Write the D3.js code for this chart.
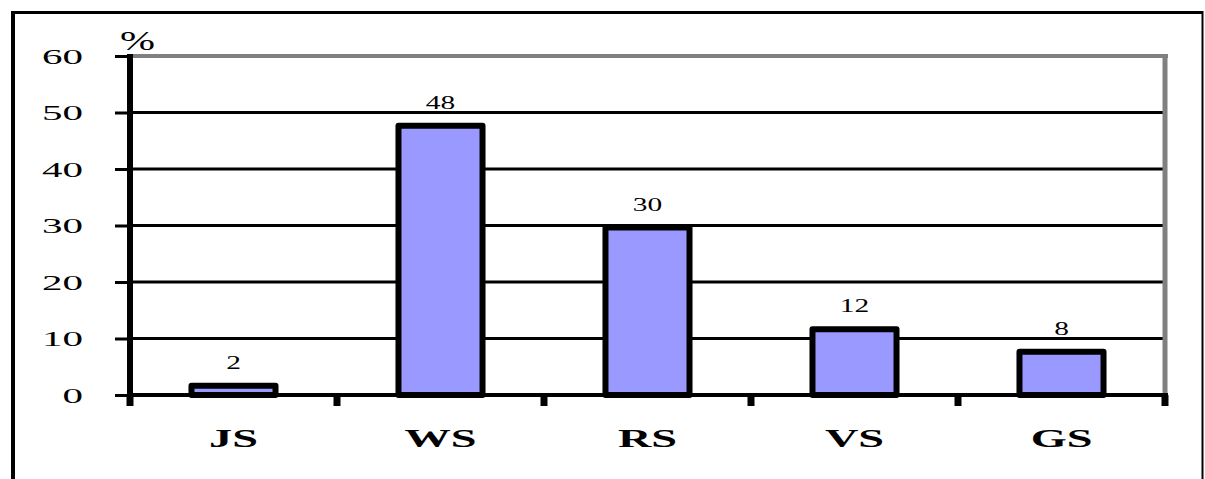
<!DOCTYPE html>
<html>
<head>
<meta charset="utf-8">
<script src="https://cdn.jsdelivr.net/npm/d3@7"></script>
<style>
  html, body { margin: 0; padding: 0; background: #fff; }
  svg { display: block; }
  svg text { font-family: "Liberation Serif", serif !important; fill: #000; }
</style>
</head>
<body>
<svg id="chart" width="1205" height="479"></svg>
<script>
// Share of each class, in percent
const categories = ["JS", "WS", "RS", "VS", "GS"];
const values = [2, 48, 30, 12, 8];
const yTicks = [0, 10, 20, 30, 40, 50, 60];
const yUnit = "%";

const svg = d3.select("#chart");
const W = 1205, H = 479;
const plot = { left: 130, right: 1165, top: 56, bottom: 395 };
const serif = "'Liberation Serif', serif";

const x = d3.scaleBand()
  .domain(categories)
  .range([plot.left, plot.right])
  .paddingInner(0.565)
  .paddingOuter(0.2825);

const y = d3.scaleLinear()
  .domain([0, 60])
  .range([plot.bottom, plot.top]);

// Outer frame
svg.append("line").attr("x1", 13).attr("x2", 13).attr("y1", 11).attr("y2", H + 5)
  .attr("stroke", "#000").attr("stroke-width", 4);
svg.append("line").attr("x1", 11).attr("x2", 1203).attr("y1", 12.5).attr("y2", 12.5)
  .attr("stroke", "#000").attr("stroke-width", 3);
svg.append("line").attr("x1", 1202.5).attr("x2", 1202.5).attr("y1", 11).attr("y2", H + 5)
  .attr("stroke", "#000").attr("stroke-width", 2);

// Horizontal gridlines
svg.append("g").selectAll("line")
  .data(yTicks.filter(d => d > 0 && d < 60))
  .join("line")
  .attr("x1", plot.left).attr("x2", plot.right)
  .attr("y1", d => y(d)).attr("y2", d => y(d))
  .attr("stroke", "#000").attr("stroke-width", 3);

// Plot-area border (top and right, gray)
svg.append("line").attr("x1", plot.left).attr("x2", plot.right + 3)
  .attr("y1", y(60)).attr("y2", y(60))
  .attr("stroke", "#808080").attr("stroke-width", 4);
svg.append("line").attr("x1", plot.right).attr("x2", plot.right)
  .attr("y1", y(60) - 2).attr("y2", plot.bottom)
  .attr("stroke", "#808080").attr("stroke-width", 5);

// Bars
const rows = categories.map((c, i) => ({ c, v: values[i] }));
svg.append("g").selectAll("rect")
  .data(rows)
  .join("rect")
  .attr("x", d => x(d.c) + 3)
  .attr("width", x.bandwidth() - 6)
  .attr("y", d => y(d.v) + 2)
  .attr("height", d => y(0) - y(d.v) - 2)
  .attr("fill", "#9999FF")
  .attr("stroke", "#000")
  .attr("stroke-width", 6)
  .attr("stroke-linejoin", "round");

// Value labels
svg.append("g").selectAll("text")
  .data(rows)
  .join("text")
  .style("font-family", serif)
  .attr("text-anchor", "middle")
  .attr("font-size", 19)
  .attr("transform", d => `translate(${x(d.c) + x.bandwidth() / 2},${y(d.v) - 15}) scale(1.55,1)`)
  .text(d => d.v);

// Baseline
svg.append("line").attr("x1", plot.left).attr("x2", plot.right + 3)
  .attr("y1", y(0)).attr("y2", y(0))
  .attr("stroke", "#000").attr("stroke-width", 4);

// Category boundary ticks under the baseline
const bounds = categories.map(c => x(c) - x.step() * x.paddingOuter()).concat([plot.right]);
svg.append("g").selectAll("line")
  .data(bounds)
  .join("line")
  .attr("x1", d => d).attr("x2", d => d)
  .attr("y1", y(0)).attr("y2", y(0) + 11)
  .attr("stroke", "#000").attr("stroke-width", 7);

// Category labels
svg.append("g").selectAll("text")
  .data(categories)
  .join("text")
  .style("font-family", serif)
  .attr("text-anchor", "middle")
  .attr("font-size", 25)
  .attr("font-weight", "bold")
  .attr("transform", d => `translate(${x(d) + x.bandwidth() / 2},447) scale(1.85,1)`)
  .text(d => d);

// Y axis
const yAxis = d3.axisLeft(y).tickValues(yTicks).tickSize(15).tickFormat(d => d);
const gy = svg.append("g").attr("transform", `translate(${plot.left},0)`).call(yAxis);
gy.attr("font-family", null);
gy.select(".domain").remove();
gy.selectAll(".tick line").attr("stroke", "#000").attr("stroke-width", 3);
gy.selectAll(".tick text")
  .style("font-family", serif)
  .attr("x", 0).attr("dy", "0.34em")
  .attr("font-size", 21)
  .attr("transform", "translate(-47,0) scale(1.95,1)");
svg.append("line").attr("x1", plot.left).attr("x2", plot.left)
  .attr("y1", y(60) - 2).attr("y2", y(0) + 11)
  .attr("stroke", "#000").attr("stroke-width", 6);

// Unit label
svg.append("text")
  .style("font-family", serif)
  .attr("font-size", 28)
  .attr("transform", "translate(120,50) scale(1.5,1)")
  .text(yUnit);
</script>
</body>
</html>
